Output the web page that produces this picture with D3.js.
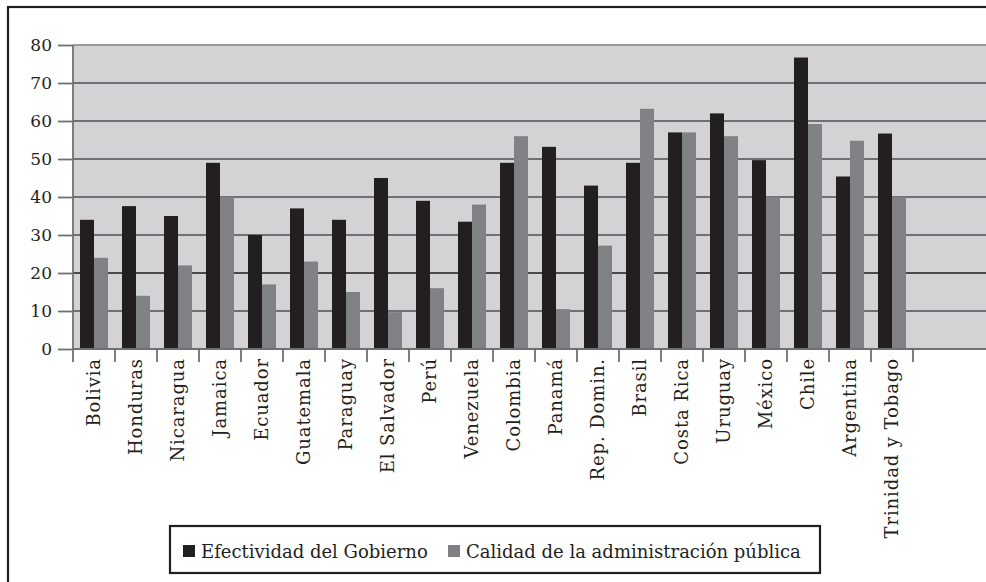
<!DOCTYPE html>
<html>
<head>
<meta charset="utf-8">
<script src="https://cdn.jsdelivr.net/npm/d3@7"></script>
<style>
  html, body { margin: 0; padding: 0; background: #fff; }
  svg { display: block; }
  text { font-family: "DejaVu Serif", "Liberation Serif", serif; fill: #231f20; }
</style>
</head>
<body>
<svg id="chart" width="986" height="582"></svg>
<script>
// Countries in display order
const countries = ["Bolivia", "Honduras", "Nicaragua", "Jamaica", "Ecuador", "Guatemala",
  "Paraguay", "El Salvador", "Perú", "Venezuela", "Colombia", "Panamá", "Rep. Domin.",
  "Brasil", "Costa Rica", "Uruguay", "México", "Chile", "Argentina", "Trinidad y Tobago"];

// Government effectiveness
const efectividad = [34, 37.6, 35, 49, 30, 37, 34, 45, 39, 33.5, 49, 53.2, 43, 49,
  57, 62, 49.7, 76.7, 45.4, 56.7];

// Public administration quality
const calidad = [24, 14, 22, 40, 17, 23, 15, 9.7, 16, 38, 56, 10.5, 27.2, 63.2,
  57, 56, 40, 59.2, 54.8, 40];

const yTicks = [0, 10, 20, 30, 40, 50, 60, 70, 80];
const seriesNames = ["Efectividad del Gobierno", "Calidad de la administración pública"];
const seriesColors = ["#231f20", "#808184"];

const svg = d3.select("#chart");

// Outer frame (runs off the right and bottom edges)
svg.append("rect")
  .attr("x", 8).attr("y", 7).attr("width", 1000).attr("height", 600)
  .attr("fill", "#fff").attr("stroke", "#231f20").attr("stroke-width", 2.2);

const plotLeft = 73, plotTop = 45, plotBottom = 349, bandW = 42;
const plotRight = 995;

const x = d3.scaleBand().domain(countries)
  .range([plotLeft, plotLeft + bandW * countries.length]).paddingInner(0).paddingOuter(0);
const y = d3.scaleLinear().domain([0, 80]).range([plotBottom, plotTop]);

// Plot background
svg.append("rect")
  .attr("x", plotLeft).attr("y", plotTop)
  .attr("width", plotRight - plotLeft).attr("height", plotBottom - plotTop)
  .attr("fill", "#d3d3d5");

// Horizontal gridlines
svg.append("g").selectAll("line").data(yTicks.filter(d => d > 0)).join("line")
  .attr("x1", plotLeft).attr("x2", plotRight)
  .attr("y1", d => y(d)).attr("y2", d => y(d))
  .attr("stroke", d => d === 80 ? "#9a9b9e" : (d === 20 ? "#4a4a4c" : "#6f7073"))
  .attr("stroke-width", 1.8);

// Bars
const inner = d3.scaleBand().domain([0, 1]).range([7, 35]);
const groups = svg.append("g").selectAll("g").data(countries).join("g")
  .attr("transform", d => `translate(${x(d)},0)`);
groups.each(function(c, i) {
  const vals = [efectividad[i], calidad[i]];
  d3.select(this).selectAll("rect").data(vals).join("rect")
    .attr("x", (v, k) => inner(k))
    .attr("width", inner.bandwidth())
    .attr("y", v => y(v))
    .attr("height", v => plotBottom - y(v))
    .attr("fill", (v, k) => seriesColors[k]);
});

// Y axis
const yAxis = d3.axisLeft(y).tickValues(yTicks).tickSize(15).tickPadding(6);
const yg = svg.append("g").attr("transform", `translate(${plotLeft},0)`).call(yAxis);
yg.select(".domain").attr("stroke", "#6f7073").attr("stroke-width", 1.8)
  .attr("d", `M0,${plotTop}V${plotBottom + 13}`);
yg.selectAll(".tick line").attr("stroke", "#6f7073").attr("stroke-width", 1.8);
yg.selectAll(".tick text").attr("font-size", 17).attr("fill", "#231f20")
  .attr("font-family", "DejaVu Serif, serif");

// X axis baseline and category dividers
svg.append("line").attr("x1", plotLeft).attr("x2", plotRight)
  .attr("y1", plotBottom).attr("y2", plotBottom)
  .attr("stroke", "#6f7073").attr("stroke-width", 1.8);
const dividers = countries.map(c => x(c) + bandW);
svg.append("g").selectAll("line").data(dividers).join("line")
  .attr("x1", d => d).attr("x2", d => d)
  .attr("y1", plotBottom).attr("y2", plotBottom + 13)
  .attr("stroke", "#6f7073").attr("stroke-width", 1.8);

// Category labels (rotated)
svg.append("g").selectAll("text").data(countries).join("text")
  .attr("transform", d => `translate(${x(d) + bandW / 2 + 6},${plotBottom + 9}) rotate(-90)`)
  .attr("text-anchor", "end")
  .attr("font-size", 18)
  .attr("letter-spacing", 0.9)
  .text(d => d);

// Legend
const lg = svg.append("g");
lg.append("rect").attr("x", 170).attr("y", 526).attr("width", 650).attr("height", 47)
  .attr("fill", "#fff").attr("stroke", "#231f20").attr("stroke-width", 2.2);
const legendX = [183, 448];
seriesNames.forEach((name, k) => {
  lg.append("rect").attr("x", legendX[k]).attr("y", 545).attr("width", 12).attr("height", 12)
    .attr("fill", seriesColors[k]);
  lg.append("text").attr("x", legendX[k] + 18).attr("y", 558)
    .attr("font-size", 18).text(name);
});
</script>
</body>
</html>
